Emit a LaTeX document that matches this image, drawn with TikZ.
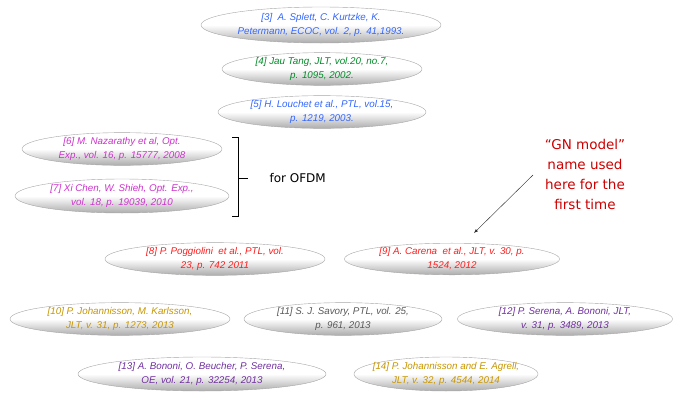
\documentclass[tikz,border=0pt]{standalone}
\usepackage{fontspec}
\setmainfont{Liberation Sans}
\newfontfamily\notefont{DejaVu Sans}
\usetikzlibrary{shapes.geometric}

\definecolor{refblue}{RGB}{51,102,255}
\definecolor{refgreen}{RGB}{0,140,40}
\definecolor{refmagenta}{RGB}{204,51,204}
\definecolor{refred}{RGB}{255,30,30}
\definecolor{refgold}{RGB}{200,150,0}
\definecolor{refgrey}{RGB}{90,90,90}
\definecolor{refpurple}{RGB}{112,48,160}
\definecolor{notered}{RGB}{204,0,0}

\tikzset{
  refbox/.style={ellipse, draw=gray!70, top color=white, bottom color=gray!65,
    middle color=white, inner sep=0pt, inner xsep=-12pt, align=center,
    font=\fontsize{9.8}{14}\selectfont\itshape},
}

\begin{document}
\begin{tikzpicture}[x=1pt, y=-1pt]
    \useasboundingbox (0,0) rectangle (678,394);

    % references, top to bottom
    \node[refbox, minimum width=240pt, minimum height=36pt, text=refblue] (r3) at (321,25) {[3]\ \ A. Splett, C. Kurtzke, K.\\Petermann, ECOC, vol. 2, p. 41,1993.};
    \node[refbox, minimum width=200pt, minimum height=30pt, text=refgreen] (r4) at (322,69) {[4] Jau Tang, JLT, vol.20, no.7,\\p. 1095, 2002.};
    \node[refbox, minimum width=208pt, minimum height=30pt, text=refblue] (r5) at (322,112) {[5] H. Louchet et al., PTL, vol.15,\\p. 1219, 2003.};

    \node[refbox, minimum width=200pt, minimum height=30pt, text=refmagenta] (r6) at (122,149) {[6] M. Nazarathy et al, Opt.\\Exp., vol. 16, p. 15777, 2008};
    \node[refbox, minimum width=214pt, minimum height=34pt, text=refmagenta] (r7) at (122,196) {[7] Xi Chen, W. Shieh, Opt. Exp.,\\vol. 18, p. 19039, 2010};

    \node[refbox, minimum width=220pt, minimum height=30pt, text=refred] (r8) at (215,259) {[8] P. Poggiolini\ \ et al., PTL, vol.\\23, p. 742 2011};
    \node[refbox, minimum width=215pt, minimum height=30pt, text=refred] (r9) at (452,259) {[9] A. Carena\ \ et al., JLT, v. 30, p.\\1524, 2012};

    \node[refbox, minimum width=220pt, minimum height=30pt, text=refgold] (r10) at (120,319) {[10] P. Johannisson, M. Karlsson,\\JLT, v. 31, p. 1273, 2013};
    \node[refbox, minimum width=198pt, minimum height=30pt, text=refgrey] (r11) at (343,319) {[11] S. J. Savory, PTL, vol. 25,\\p. 961, 2013};
    \node[refbox, minimum width=215pt, minimum height=30pt, text=refpurple] (r12) at (565,319) {[12] P. Serena, A. Bononi, JLT,\\v. 31, p. 3489, 2013};

    \node[refbox, minimum width=248pt, minimum height=34pt, text=refpurple] (r13) at (202,374) {[13] A. Bononi, O. Beucher, P. Serena,\\OE, vol. 21, p. 32254, 2013};
    \node[refbox, minimum width=184pt, minimum height=34pt, text=refgold] (r14) at (446,374) {[14] P. Johannisson and E. Agrell,\\JLT, v. 32, p. 4544, 2014};

    % OFDM bracket
    \draw[semithick] (232,137) -- (238,137) -- (238,216) -- (232,216);
    \draw[semithick] (238,178) -- (248,178);
    \node[font=\notefont\fontsize{12}{14}\selectfont, anchor=west] (ofdm) at (266,178) {for OFDM};

    % GN model note
    \node[font=\notefont\fontsize{13.5}{20}\selectfont, text=notered, align=center] (gn) at (585,174) {“GN model”\\name used\\here for the\\first time};
    \coordinate (gnstart) at (533,175);
    \coordinate (gnend) at (474,233);
    \draw[arrows=-latex, gray!30!black] (gnstart) -- (gnend);

\end{tikzpicture}
\end{document}
